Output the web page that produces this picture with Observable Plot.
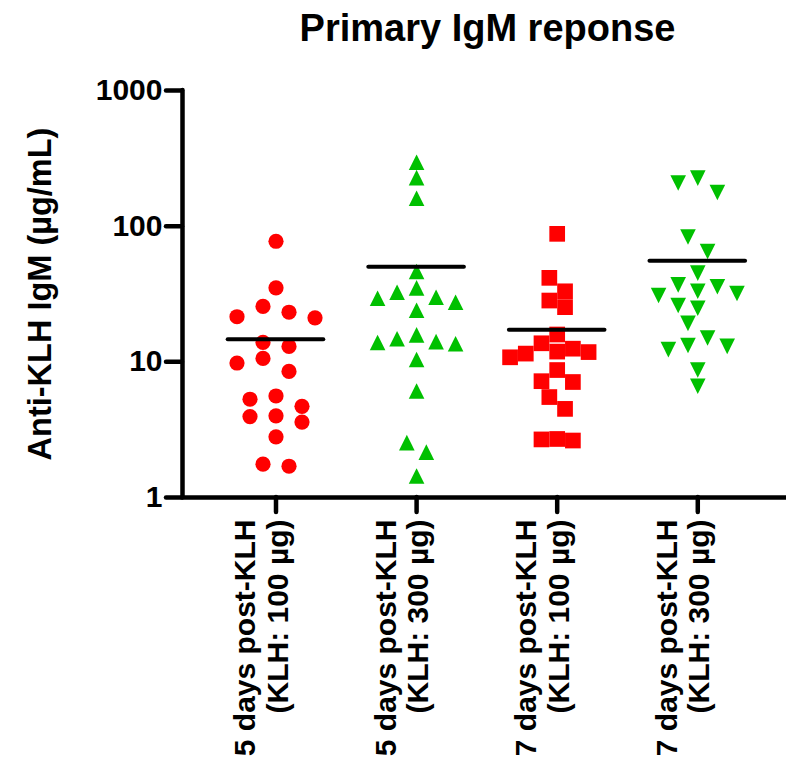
<!DOCTYPE html>
<html><head><meta charset="utf-8">
<script src="https://cdn.jsdelivr.net/npm/d3@7"></script>
<script src="https://cdn.jsdelivr.net/npm/@observablehq/plot@0.6"></script>
<style>body{margin:0;background:#fff}</style>
</head><body><div id="chart"></div>
<script>
// ---- data ----
const title = "Primary IgM reponse";
const yLabel = "Anti-KLH IgM (µg/mL)";
const categories = [
  "5 days post-KLH\n(KLH: 100 µg)",
  "5 days post-KLH\n(KLH: 300 µg)",
  "7 days post-KLH\n(KLH: 100 µg)",
  "7 days post-KLH\n(KLH: 300 µg)"
];
const day5_100 = [77.4, 35.1, 25.6, 21.1, 23.2, 21.5, 13.9, 13.0, 9.8, 10.6, 8.5, 5.6, 4.7, 5.3, 3.95, 4.0, 3.6, 2.8, 1.7, 1.76];
const day5_300 = [295.8, 228, 160.6, 46.3, 35.1, 32.6, 29.9, 29.4, 27.5, 24.0, 15.8, 14.8, 14.1, 13.9, 13.6, 10.4, 6.1, 2.54, 2.16, 1.44];
const day7_100 = [87.8, 41.6, 33.1, 28.3, 25.3, 15.9, 13.7, 12.5, 11.9, 11.8, 11.5, 10.8, 8.7, 7.2, 7.1, 5.5, 4.5, 2.7, 2.68, 2.63];
const day7_300 = [226, 208, 177, 83.1, 65.0, 45.1, 36.9, 35.8, 33.1, 31.9, 30.8, 26.0, 24.8, 19.2, 15.0, 13.2, 13.0, 12.3, 8.7, 6.6];
const yTicks = [1, 10, 100, 1000];

// ---- layout & style ----
const W = 786, H = 764;
const margin = {top: 90, right: 0, bottom: 267, left: 182};
const xDomain = [-0.665, 3.631];
const yDomain = [1, 1000];
const red = "#ff0000", green = "#00c000";
const font = "'Liberation Sans', Arial, Helvetica, sans-serif";

function tri(dir) {
  return {draw(ctx, size) {
    const a = Math.sqrt(size / Math.PI);
    ctx.moveTo(0, -dir * a); ctx.lineTo(a, dir * a); ctx.lineTo(-a, dir * a); ctx.closePath();
  }};
}
const triUp = tri(1), triDown = tri(-1);
const square = {draw(ctx, size) { const a = Math.sqrt(size / Math.PI); ctx.rect(-a, -a, 2 * a, 2 * a); }};

const series = [
  {values: day5_100, symbol: "circle", fill: red,   r: 7.6,  step: 26,   hgt: 15},
  {values: day5_300, symbol: triUp,    fill: green, r: 7.8,  step: 19.5, hgt: 15},
  {values: day7_100, symbol: square,   fill: red,   r: 7.85, step: 15.7, hgt: 15.7},
  {values: day7_300, symbol: triDown,  fill: green, r: 7.8,  step: 19.6, hgt: 15}
];

const yS = Plot.scale({y: {type: "log", domain: yDomain, range: [H - margin.bottom, margin.top]}});
const pxPerUnit = (W - margin.left - margin.right) / (xDomain[1] - xDomain[0]);

// Prism-like scatter arrangement: rows are centred when possible, otherwise points
// are placed one by one on a half-step grid as close to the centre as they fit.
function swarm(values, step, hgt) {
  const h = step / 2;
  const pts = values.map(v => ({value: v, py: yS.apply(v)})).sort((a, b) => a.py - b.py);
  const rows = []; let k = 0;
  while (k < pts.length) {
    const y0 = pts[k].py, row = [];
    while (k < pts.length && pts[k].py - y0 < hgt) row.push(pts[k++]);
    rows.push(row);
  }
  const placed = [];
  const free = (py, px) => placed.every(q => Math.abs(q.py - py) >= hgt || Math.abs(q.px - px) >= step - 0.01);
  let toggle = 1;
  for (const row of rows) {
    const n = row.length;
    const slots = d3.range(n).map(j => (j - (n - 1) / 2) * step)
      .sort((a, b) => Math.abs(a) - Math.abs(b) || a - b);
    let done = false;
    for (const s of [0, h, -h]) {
      if (row.every((p, j) => free(p.py, slots[j] + s))) {
        row.forEach((p, j) => { p.px = slots[j] + s; placed.push(p); });
        done = true; break;
      }
    }
    if (done) continue;
    for (const p of row) {
      p.px = 0;
      if (!free(p.py, 0)) {
        for (let m = 1; m < 40; m++) {
          const a = toggle * m * h, b = -a;
          const fa = free(p.py, a), fb = free(p.py, b);
          if (fa || fb) { p.px = fa ? a : b; if (fa && fb) toggle = -toggle; break; }
        }
      }
      placed.push(p);
    }
  }
  return pts;
}

const marks = [];
// axes
marks.push(Plot.ruleY([yDomain[0]], {stroke: "black", strokeWidth: 4.5, strokeLinecap: "round"}));
marks.push(Plot.ruleX([xDomain[0]], {stroke: "black", strokeWidth: 4.5, strokeLinecap: "round"}));
marks.push(Plot.ruleY(yTicks, {y: d => d, x1: xDomain[0], x2: xDomain[0], insetLeft: -16, stroke: "black", strokeWidth: 4.5, strokeLinecap: "round"}));
marks.push(Plot.ruleX(categories.map((c, i) => i), {x: d => d, y1: yDomain[0], y2: yDomain[0], insetBottom: -15, stroke: "black", strokeWidth: 4.5, strokeLinecap: "round"}));

// points
series.forEach((s, gi) => {
  const pts = swarm(s.values, s.step, s.hgt).map(p => ({x: gi + p.px / pxPerUnit, value: p.value}));
  marks.push(Plot.dot(pts, {x: "x", y: "value", symbol: s.symbol, fill: s.fill, r: s.r, stroke: "none"}));
});

// mean lines
const means = series.map((s, gi) => ({gi, mean: d3.mean(s.values)}));
marks.push(Plot.ruleY(means, {y: "mean", x1: d => d.gi - 0.34, x2: d => d.gi + 0.34, stroke: "black", strokeWidth: 4, strokeLinecap: "round"}));

// texts
marks.push(Plot.text(yTicks, {y: d => d, text: d => String(d), frameAnchor: "left", dx: -20, textAnchor: "end", lineAnchor: "middle", fontSize: 30, fontWeight: "bold"}));
marks.push(Plot.text(categories, {x: (d, i) => i, text: d => d, frameAnchor: "bottom", dx: -15, dy: 22, rotate: -90, textAnchor: "end", lineAnchor: "middle", lineHeight: 1.08, fontSize: 30, fontWeight: "bold"}));
marks.push(Plot.text([yLabel], {text: d => d, frameAnchor: "left", dx: -142, rotate: -90, textAnchor: "middle", lineAnchor: "middle", fontSize: 32.5, fontWeight: "bold"}));
marks.push(Plot.text([title], {text: d => d, frameAnchor: "top", dx: 3, dy: -50, lineAnchor: "bottom", fontSize: 38, fontWeight: "bold"}));

const chart = Plot.plot({
  width: W, height: H,
  marginTop: margin.top, marginRight: margin.right, marginBottom: margin.bottom, marginLeft: margin.left,
  x: {type: "linear", domain: xDomain, axis: null},
  y: {type: "log", domain: yDomain, axis: null},
  style: {fontFamily: font, background: "#fff", overflow: "visible", color: "black"},
  marks
});
document.getElementById("chart").appendChild(chart);
</script>
</body></html>
